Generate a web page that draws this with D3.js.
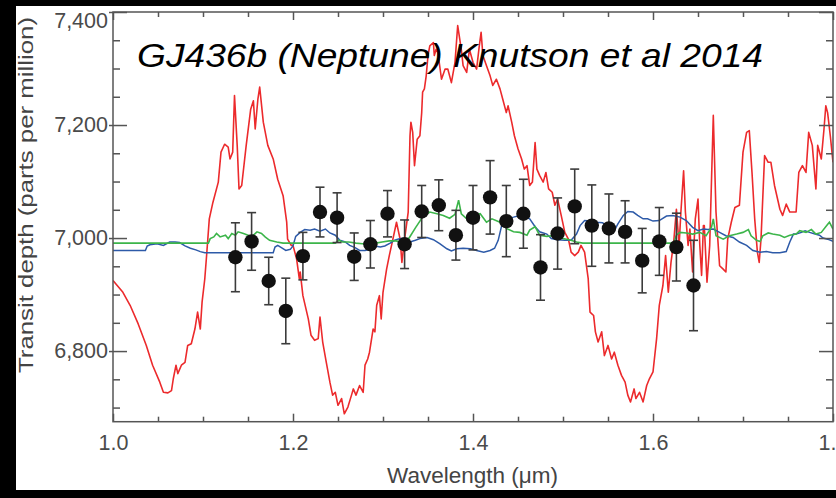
<!DOCTYPE html>
<html>
<head>
<meta charset="utf-8">
<script src="https://cdn.jsdelivr.net/npm/d3@7"></script>
<style>
  html, body { margin: 0; padding: 0; background: #000; }
  svg { display: block; }
</style>
</head>
<body>
<script>
// ---- data ----
const xMajor = [1.0, 1.2, 1.4, 1.6, 1.8];
const yMajor = [6800, 7000, 7200, 7400];

// high-metallicity model (red)
const redWave = [1.000,1.011,1.019,1.028,1.037,1.044,1.052,1.056,1.061,1.065,1.067,1.070,1.072,1.076,1.080,1.083,1.087,1.091,1.094,1.097,1.099,1.102,1.104,1.107,1.111,1.117,1.120,1.124,1.128,1.130,1.133,1.135,1.138,1.140,1.143,1.148,1.153,1.156,1.158,1.161,1.163,1.167,1.172,1.178,1.183,1.189,1.193,1.194,1.198,
  1.200,1.204,1.207,1.208,1.211,1.217,1.220,1.224,1.228,1.230,1.233,1.237,1.241,1.244,1.247,1.250,1.254,1.257,1.261,1.265,1.267,1.270,1.274,1.278,1.280,1.283,1.285,1.289,1.291,1.293,1.296,1.298,1.300,1.304,1.307,1.311,1.315,1.319,1.321,1.324,1.328,1.330,1.331,1.333,1.335,1.338,1.341,1.343,1.344,1.346,1.348,1.350,1.352,1.356,1.357,1.359,1.361,1.365,1.369,1.372,1.376,1.380,1.383,1.387,1.389,1.393,1.396,
  1.400,1.404,1.407,1.409,1.411,1.415,1.419,1.422,1.426,1.430,1.433,1.437,1.439,1.443,1.446,1.450,1.454,1.457,1.460,1.463,1.466,1.469,1.471,1.474,1.478,1.481,1.484,1.488,1.491,1.494,1.498,1.502,1.506,1.509,1.513,1.517,1.520,1.524,1.528,1.530,1.534,1.536,1.539,1.543,1.546,1.550,1.554,1.557,1.561,1.565,1.569,1.572,1.575,1.579,1.581,1.585,1.589,1.593,1.596,
  1.600,1.604,1.607,1.611,1.614,1.617,1.620,1.623,1.626,1.629,1.631,1.634,1.636,1.639,1.641,1.644,1.647,1.650,1.652,1.654,1.656,1.657,1.660,1.663,1.667,1.670,1.672,1.674,1.678,1.681,1.683,1.687,1.691,1.696,1.700,1.704,1.707,1.710,1.713,1.716,1.718,1.720,1.724,1.728,1.731,1.735,1.741,1.744,1.748,1.752,1.759,1.762,1.766,1.770,1.773,1.777,1.781,1.783,1.787,1.790,1.792,1.794,1.797,1.800];
const redDepth = [6925,6904,6881,6848,6810,6775,6745,6727,6726,6730,6751,6775,6760,6775,6780,6810,6813,6839,6869,6839,6887,6928,6969,7034,7063,7099,7152,7166,7161,7140,7152,7252,7164,7087,7093,7164,7228,7243,7193,7246,7267,7205,7164,7140,7104,7075,7028,6998,6987,
  6987,6963,6928,6940,6898,6857,6828,6819,6822,6860,6816,6780,6745,6722,6727,6704,6716,6689,6701,6722,6733,6722,6739,6727,6775,6786,6798,6839,6834,6881,6898,6857,6904,6945,6969,6998,7028,6998,6957,6998,7046,7181,7205,7187,7128,7175,7181,7222,7258,7264,7287,7323,7340,7346,7323,7334,7328,7281,7299,7299,7275,7311,7376,7334,7305,7293,7334,
  7311,7299,7340,7364,7323,7305,7287,7270,7281,7264,7246,7222,7234,7205,7181,7158,7140,7122,7128,7093,7099,7169,7122,7111,7099,7116,7087,7081,7058,7069,7040,7010,6998,6975,6969,6975,6987,6975,6928,6869,6863,6834,6816,6834,6792,6810,6786,6798,6775,6757,6745,6722,6710,6733,6716,6727,6710,6739,6751,
  6763,6822,6881,6916,6969,6904,6957,6993,7051,6987,7046,7119,7046,6987,7016,6940,7034,7069,6987,6934,7022,7022,6922,6987,7217,7046,6998,6951,6945,6940,6998,7028,7054,7058,7152,7187,7190,7116,7034,6975,6957,6998,7146,7134,7134,7093,7051,7040,7060,7046,7046,7116,7128,7116,7187,7164,7087,7164,7140,7193,7234,7222,7181,7134];

// blue model
const blueWave = [1.000,1.036,1.038,1.041,1.049,1.056,1.063,1.069,1.074,1.080,1.086,1.092,1.097,1.102,1.178,1.180,1.183,1.188,1.192,1.197,1.200,1.203,1.208,1.213,1.219,1.224,1.230,1.236,1.241,1.247,1.252,1.258,1.263,1.269,1.274,1.280,1.286,1.291,1.297,1.302,1.308,1.313,1.319,1.324,1.330,1.336,1.341,1.349,1.356,1.363,1.371,1.376,1.382,1.389,1.397,1.404,1.412,1.419,1.424,1.428,1.432,1.437,1.445,1.452,1.458,1.463,1.469,1.474,1.482,1.487,1.494,1.502,1.509,1.515,1.519,1.524,1.530,1.537,1.544,1.550,1.556,1.561,1.567,1.572,1.578,1.583,1.589,1.594,1.600,1.607,1.615,1.622,1.630,1.637,1.644,1.650,1.656,1.661,1.667,1.674,1.681,1.689,1.696,1.704,1.711,1.719,1.726,1.733,1.741,1.748,1.752,1.756,1.759,1.765,1.769,1.774,1.780,1.785,1.789,1.794,1.800];
const blueDepth = [6978,6978,6986,6988,6990,6987,6993,6993,6992,6986,6982,6979,6976,6974,6974,6984,6987,6982,6978,6980,6986,7003,7010,7015,7014,7016,7012,7016,7009,7005,6996,6993,6987,6983,6978,6978,6980,6986,6984,6986,6991,6996,6999,6999,6993,6996,6999,7001,6997,6990,6981,6977,6981,6982,6981,6978,6975,6978,6982,6996,7023,7034,7037,7040,7037,7034,7020,7011,7007,6999,6997,6996,6996,7007,7022,7031,7030,7028,7027,7019,7010,7025,7040,7047,7046,7040,7034,7034,7030,7031,7039,7040,7037,7031,7019,7013,7016,7015,7016,7010,7004,7001,6993,6987,6978,6975,6976,6974,6974,6976,6993,7007,7007,7010,7013,7010,7007,7005,7000,6998,6994];

// green model
const greenWave = [1.000,1.106,1.108,1.112,1.115,1.119,1.125,1.128,1.132,1.136,1.139,1.145,1.150,1.154,1.160,1.165,1.169,1.174,1.182,1.189,1.247,1.251,1.255,1.262,1.270,1.277,1.284,1.292,1.299,1.307,1.314,1.321,1.329,1.336,1.344,1.352,1.360,1.367,1.374,1.380,1.384,1.387,1.393,1.400,1.408,1.415,1.421,1.430,1.437,1.445,1.452,1.460,1.463,1.469,1.474,1.482,1.493,1.500,1.507,1.515,1.522,1.623,1.626,1.630,1.637,1.644,1.652,1.659,1.665,1.667,1.670,1.678,1.685,1.693,1.700,1.706,1.709,1.715,1.719,1.722,1.728,1.733,1.741,1.746,1.752,1.759,1.763,1.770,1.776,1.781,1.787,1.793,1.796,1.800];
const greenDepth = [6991,6991,6999,7002,7008,7002,7005,6999,7008,7005,7011,7008,7005,7002,7011,7008,7002,6996,6993,6991,6991,6996,6993,6993,6991,6990,6990,6991,6993,6995,6995,6993,7000,7018,7037,7046,7043,7040,7035,7042,7067,7043,7034,7040,7043,7028,7034,7028,7017,7011,7010,7005,7014,7020,7005,7003,7005,6999,6997,6993,6991,6991,7005,7010,7009,7007,7010,7004,7019,7034,7004,6998,7004,7007,7010,7015,7004,6996,6994,7004,7009,7007,7005,7001,7005,7007,7013,7010,7015,7007,7010,7022,7028,7016];

// measured transit depths with 1-sigma errors
const pointWave = [1.136,1.154,1.173,1.192,1.211,1.230,1.249,1.268,1.286,1.305,1.324,1.343,1.362,1.381,1.400,1.419,1.437,1.456,1.475,1.494,1.513,1.532,1.551,1.569,1.588,1.607,1.626,1.645];
const pointDepth = [6966,6994,6924,6871,6968,7046,7036,6967,6989,7043,6989,7047,7058,7005,7036,7072,7030,7043,6948,7008,7056,7022,7017,7011,6960,6994,6984,6916];
const pointErr = [61,51,42,58,42,44,44,42,42,41,43,46,45,44,57,65,63,61,58,63,66,72,61,55,57,60,60,80];

// ---- chart ----
const W = 836, H = 498;
const plotLeft = 113, plotRight = 833, plotTop = 12, plotBottom = 421.7;
const font = "'Liberation Sans', Arial, sans-serif";

const svg = d3.select("body").append("svg")
  .attr("width", W)
  .attr("height", H);

// white panel on black page
svg.append("rect")
  .attr("x", 16).attr("y", 6)
  .attr("width", W - 16).attr("height", 484)
  .attr("fill", "#fff");

const x = d3.scaleLinear().domain([1.0, 1.8]).range([plotLeft, plotRight]);
const y = d3.scaleLinear().domain([6675, 7400]).range([plotBottom, plotTop]);

const xMinor = d3.range(1.05, 1.8, 0.05).filter(v => Math.abs(v * 5 - Math.round(v * 5)) > 0.01);
const yMinor = d3.range(6700, 7400, 50).filter(v => v % 200 !== 0);

svg.append("clipPath").attr("id", "plot")
  .append("rect")
  .attr("x", plotLeft).attr("y", plotTop)
  .attr("width", plotRight - plotLeft).attr("height", plotBottom - plotTop);

const plot = svg.append("g").attr("clip-path", "url(#plot)");

const line = d3.line()
  .x(d => x(d[0]))
  .y(d => y(d[1]));

plot.append("path")
  .datum(d3.zip(redWave, redDepth))
  .attr("d", line)
  .attr("fill", "none")
  .attr("stroke", "#ec2a2c")
  .attr("stroke-width", 1.6)
  .attr("stroke-linejoin", "round");

plot.append("path")
  .datum(d3.zip(blueWave, blueDepth))
  .attr("d", line)
  .attr("fill", "none")
  .attr("stroke", "#2d5aa8")
  .attr("stroke-width", 1.5);

plot.append("path")
  .datum(d3.zip(greenWave, greenDepth))
  .attr("d", line)
  .attr("fill", "none")
  .attr("stroke", "#3cb54a")
  .attr("stroke-width", 1.6);

// error bars
const pts = d3.zip(pointWave, pointDepth, pointErr);
const bars = svg.append("g")
  .attr("stroke", "#3c3c3c")
  .attr("stroke-width", 1.6);

bars.selectAll(".eb")
  .data(pts)
  .enter().append("line")
  .attr("x1", d => x(d[0])).attr("x2", d => x(d[0]))
  .attr("y1", d => y(d[1] - d[2])).attr("y2", d => y(d[1] + d[2]));

bars.selectAll(".capTop")
  .data(pts)
  .enter().append("line")
  .attr("x1", d => x(d[0]) - 4.5).attr("x2", d => x(d[0]) + 4.5)
  .attr("y1", d => y(d[1] + d[2])).attr("y2", d => y(d[1] + d[2]));

bars.selectAll(".capBot")
  .data(pts)
  .enter().append("line")
  .attr("x1", d => x(d[0]) - 4.5).attr("x2", d => x(d[0]) + 4.5)
  .attr("y1", d => y(d[1] - d[2])).attr("y2", d => y(d[1] - d[2]));

svg.append("g").selectAll("circle")
  .data(pts)
  .enter().append("circle")
  .attr("cx", d => x(d[0]))
  .attr("cy", d => y(d[1]))
  .attr("r", 7.2)
  .attr("fill", "#111");

// axes: ticks point inward on all four sides
function styleAxis(g) {
  g.select(".domain").remove();
  g.selectAll("line").attr("stroke", "#555").attr("stroke-width", 1.5);
  g.selectAll("text")
    .attr("fill", "#4a4a4a")
    .style("font-family", font)
    .style("font-size", "21.5px");
}

svg.append("g")
  .attr("transform", `translate(0,${plotBottom})`)
  .call(d3.axisBottom(x).tickValues(xMajor).tickSize(-8).tickPadding(13).tickFormat(d3.format(".1f")))
  .call(styleAxis);
svg.append("g")
  .attr("transform", `translate(0,${plotBottom})`)
  .call(d3.axisBottom(x).tickValues(xMinor).tickSize(-5).tickFormat(""))
  .call(styleAxis);
svg.append("g")
  .attr("transform", `translate(0,${plotTop})`)
  .call(d3.axisTop(x).tickValues(xMajor).tickSize(-8).tickFormat(""))
  .call(styleAxis);
svg.append("g")
  .attr("transform", `translate(0,${plotTop})`)
  .call(d3.axisTop(x).tickValues(xMinor).tickSize(-5).tickFormat(""))
  .call(styleAxis);

const yAxis = svg.append("g")
  .attr("transform", `translate(${plotLeft},0)`)
  .call(d3.axisLeft(y).tickValues(yMajor).tickSize(-14).tickPadding(5).tickFormat(d3.format(",")))
  .call(styleAxis);
yAxis.selectAll("line").attr("x1", -4);
// the top label sits lower so it stays inside the white panel
yAxis.selectAll("text").attr("y", d => Math.max(0, 20.7 - y(d)));

svg.append("g")
  .attr("transform", `translate(${plotLeft},0)`)
  .call(d3.axisLeft(y).tickValues(yMinor).tickSize(-7).tickFormat(""))
  .call(styleAxis);
svg.append("g")
  .attr("transform", `translate(${plotRight},0)`)
  .call(d3.axisRight(y).tickValues(yMajor).tickSize(-14).tickFormat(""))
  .call(styleAxis);
svg.append("g")
  .attr("transform", `translate(${plotRight},0)`)
  .call(d3.axisRight(y).tickValues(yMinor).tickSize(-7).tickFormat(""))
  .call(styleAxis);

// frame
svg.append("rect")
  .attr("x", plotLeft).attr("y", plotTop)
  .attr("width", plotRight - plotLeft).attr("height", plotBottom - plotTop)
  .attr("fill", "none")
  .attr("stroke", "#555")
  .attr("stroke-width", 1.5);

// axis titles
svg.append("text")
  .attr("x", 472.5)
  .attr("y", 483)
  .attr("text-anchor", "middle")
  .attr("fill", "#444")
  .style("font-family", font)
  .style("font-size", "21.5px")
  .attr("textLength", 171)
  .attr("lengthAdjust", "spacingAndGlyphs")
  .text("Wavelength (\u03bcm)");

svg.append("text")
  .attr("transform", "translate(33,195) rotate(-90)")
  .attr("text-anchor", "middle")
  .attr("fill", "#444")
  .style("font-family", font)
  .style("font-size", "20.5px")
  .attr("textLength", 356)
  .attr("lengthAdjust", "spacingAndGlyphs")
  .text("Transit depth (parts per million)");

// title
svg.append("text")
  .attr("x", 137)
  .attr("y", 67)
  .attr("fill", "#000")
  .style("font-family", font)
  .style("font-style", "italic")
  .style("font-size", "33px")
  .attr("textLength", 626)
  .attr("lengthAdjust", "spacingAndGlyphs")
  .text("GJ436b (Neptune) Knutson et al 2014");
</script>
</body>
</html>
